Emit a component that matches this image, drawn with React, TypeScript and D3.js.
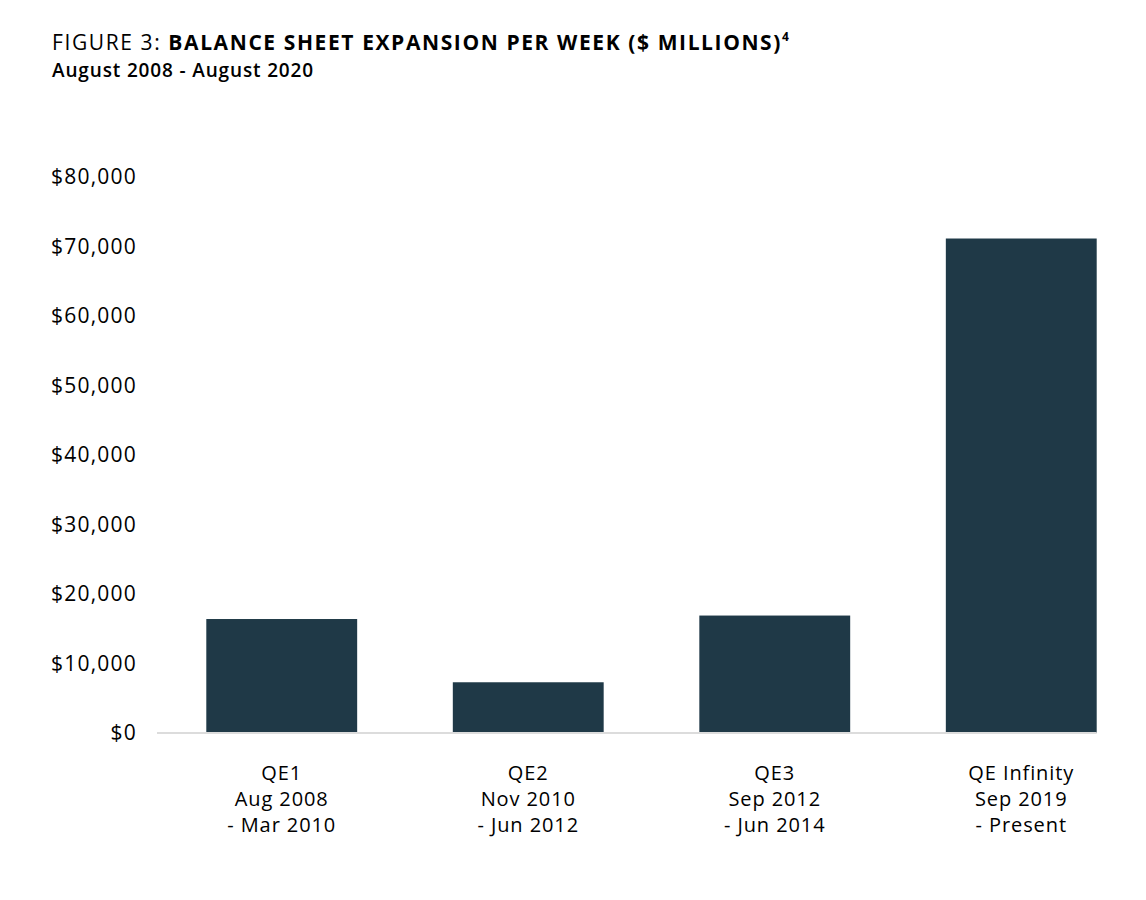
import * as d3 from 'd3';

const categories = ['QE1', 'QE2', 'QE3', 'QE Infinity'];
const periodStart = ['Aug 2008', 'Nov 2010', 'Sep 2012', 'Sep 2019'];
const periodEnd = ['- Mar 2010', '- Jun 2012', '- Jun 2014', '- Present'];
const weeklyExpansion = [16400, 7300, 16900, 71150];
const yTicks = [0, 10000, 20000, 30000, 40000, 50000, 60000, 70000, 80000];

const WIDTH = 1146;
const HEIGHT = 900;
const FONT = "'Open Sans', sans-serif";
const BAR_COLOR = '#1f3947';

export default function App() {
  const xScale = d3
    .scaleBand<string>()
    .domain(categories)
    .range([157, 1146])
    .paddingInner(0.388)
    .paddingOuter(0.2);

  const yScale = d3.scaleLinear().domain([0, 80000]).range([733, 177]);

  const fmt = (v: number) => '$' + d3.format(',')(v);
  const lastX = (xScale(categories[categories.length - 1]) || 0) + xScale.bandwidth();

  return (
    <div style={{ position: 'absolute', left: 0, top: 0 }}>
      <svg width={WIDTH} height={HEIGHT} style={{ display: 'block', background: '#fff' }}>
        {/* title */}
        <text x={52} y={50} fontFamily={FONT} fontSize={21} fill="#000" letterSpacing={1.6}>
          <tspan>FIGURE 3: </tspan>
          <tspan fontWeight={700}>BALANCE SHEET EXPANSION PER WEEK ($ MILLIONS)</tspan>
          <tspan fontWeight={700} fontSize={12} dy={-9} letterSpacing={0}>4</tspan>
        </text>
        <text x={52} y={77} fontFamily={FONT} fontSize={19} fontWeight={600} fill="#000" letterSpacing={0.85}>
          August 2008 - August 2020
        </text>

        {/* y tick labels */}
        {yTicks.map((t) => (
          <text
            key={t}
            x={137}
            y={yScale(t)}
            dy="0.35em"
            textAnchor="end"
            fontFamily={FONT}
            fontSize={21}
            letterSpacing={1.2}
            fill="#000"
          >
            {fmt(t)}
          </text>
        ))}

        {/* bars */}
        {categories.map((c, i) => (
          <rect
            key={c}
            x={xScale(c)}
            y={yScale(weeklyExpansion[i])}
            width={xScale.bandwidth()}
            height={yScale(0) - yScale(weeklyExpansion[i])}
            fill={BAR_COLOR}
          />
        ))}

        {/* baseline */}
        <line x1={157} x2={lastX} y1={yScale(0)} y2={yScale(0)} stroke="#dcdcdc" strokeWidth={2} />

        {/* x labels */}
        {categories.map((c, i) => {
          const cx = (xScale(c) || 0) + xScale.bandwidth() / 2;
          return (
            <text key={c} x={cx} textAnchor="middle" fontFamily={FONT} fontSize={20} letterSpacing={0.9} fill="#000">
              <tspan x={cx} y={780}>{c}</tspan>
              <tspan x={cx} y={806}>{periodStart[i]}</tspan>
              <tspan x={cx} y={832}>{periodEnd[i]}</tspan>
            </text>
          );
        })}
      </svg>
    </div>
  );
}
